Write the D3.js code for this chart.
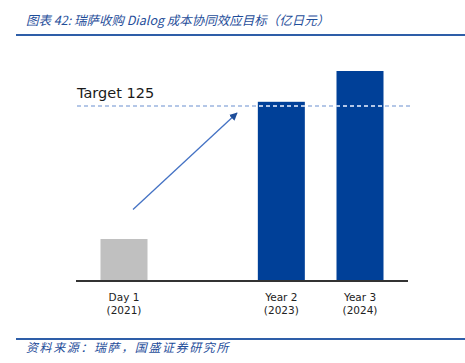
<!DOCTYPE html>
<html><head><meta charset="utf-8">
<script src="https://cdn.jsdelivr.net/npm/d3@7"></script>
<style>body{margin:0;background:#fff}svg{display:block}</style>
</head><body>
<svg id="c" width="465" height="363"></svg>
<script>
const categories = ["Day 1", "", "Year 2", "Year 3"];
const years = ["(2021)", "", "(2023)", "(2024)"];
const values = [30, null, 128, 150];
const barColors = ["#c0c0c0", null, "#004098", "#004098"];
const target = 125;
const targetLabel = "Target 125";
const title = "图表 42:  瑞萨收购 Dialog 成本协同效应目标（亿日元）";
const source = "资料来源：瑞萨，国盛证券研究所";

const svg = d3.select("#c");
const x = d3.scalePoint().domain(categories).range([124, 360]);
const y = d3.scaleLinear().domain([0, 150]).range([281, 71]);
const bw = 47;

// title
svg.append("text").attr("x", 26).attr("y", 25)
  .attr("font-family", "'Noto Sans CJK SC', sans-serif").attr("font-size", 12.5)
  .attr("font-style", "italic").attr("fill", "#1f4e9a").text(title);
svg.append("line").attr("x1", 16).attr("x2", 465).attr("y1", 35).attr("y2", 35)
  .attr("stroke", "#2e5ea8").attr("stroke-width", 2);

// bars
const data = categories.map((c, i) => ({c, v: values[i], col: barColors[i], yr: years[i]}));
svg.selectAll("rect.bar").data(data.filter(d => d.v != null)).enter().append("rect")
  .attr("class", "bar")
  .attr("x", d => x(d.c) - bw / 2).attr("width", bw)
  .attr("y", d => y(d.v)).attr("height", d => y(0) - y(d.v))
  .attr("fill", d => d.col);

// baseline axis
const axis = d3.axisBottom(x).tickSize(0).tickFormat(() => "");
const ag = svg.append("g").attr("transform", `translate(0,${y(0)})`).call(axis);
ag.select(".domain").remove();
svg.append("line").attr("x1", 76).attr("x2", 408).attr("y1", y(0)).attr("y2", y(0))
  .attr("stroke", "#333").attr("stroke-width", 2);

// category labels
const lab = svg.append("g").attr("font-family", "'DejaVu Sans', Verdana, sans-serif")
  .attr("font-size", 10.5).attr("fill", "#222").attr("text-anchor", "middle");
data.forEach(d => {
  if (!d.c) return;
  lab.append("text").attr("x", x(d.c)).attr("y", 301).text(d.c);
  lab.append("text").attr("x", x(d.c)).attr("y", 314).text(d.yr);
});

// target line
svg.append("line").attr("x1", 77).attr("x2", 410).attr("y1", y(target)).attr("y2", y(target))
  .attr("stroke", "#b4c7e7").attr("stroke-width", 2).attr("stroke-dasharray", "4,3");
svg.append("text").attr("x", 77).attr("y", 97.5)
  .attr("font-family", "'DejaVu Sans', Verdana, sans-serif").attr("font-size", 14.5)
  .attr("fill", "#1a1a1a").text(targetLabel);

// arrow
const defs = svg.append("defs");
defs.append("marker").attr("id", "ah").attr("viewBox", "0 0 10 10")
  .attr("refX", 9).attr("refY", 5).attr("markerWidth", 8).attr("markerHeight", 8)
  .attr("markerUnits", "userSpaceOnUse").attr("orient", "auto")
  .append("path").attr("d", "M0,0 L10,5 L0,10 Z").attr("fill", "#1f4e9a");
svg.append("line").attr("x1", 133).attr("y1", 209.5).attr("x2", 237).attr("y2", 113)
  .attr("stroke", "#4472c4").attr("stroke-width", 1.3).attr("marker-end", "url(#ah)");

// footer
svg.append("line").attr("x1", 16).attr("x2", 465).attr("y1", 339).attr("y2", 339)
  .attr("stroke", "#2e5ea8").attr("stroke-width", 2);
svg.append("text").attr("x", 26).attr("y", 352)
  .attr("font-family", "'Noto Sans CJK SC', sans-serif").attr("font-size", 12)
  .attr("letter-spacing", 1.6)
  .attr("font-style", "italic").attr("fill", "#1f4e9a").text(source);
</script>
</body></html>
